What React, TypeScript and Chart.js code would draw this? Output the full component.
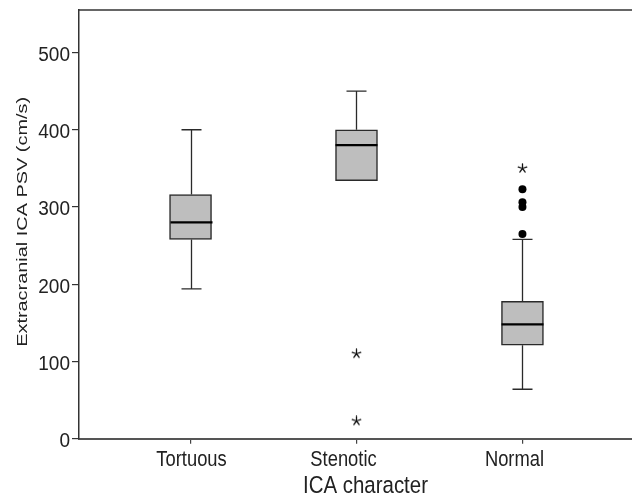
import React, { useEffect, useRef } from "react";
import { Chart, registerables } from "chart.js";

Chart.register(...registerables);

const categories = ["Tortuous", "Stenotic", "Normal"];
const positions = [1, 2, 3];
const whiskerLow = [194, 334, 64];
const q1 = [258, 334, 121];
const median = [280, 380, 148];
const q3 = [316, 400, 178];
const whiskerHigh = [400, 450, 258];
const outlierCat = [3, 3, 3, 3];
const outlierVals = [265, 300, 306, 323];
const extremeCat = [2, 2, 3];
const extremeVals = [110, 23, 350];
const yTicks = [0, 100, 200, 300, 400, 500];

const yTitle = "Extracranial ICA PSV (cm/s)";
const xTitle = "ICA character";

const FONT = '"Liberation Sans", Arial, Helvetica, sans-serif';
const TEXT = "#222";

function drawText(ctx: CanvasRenderingContext2D, text: string, x: number, y: number, size: number, sx: number, align: CanvasTextAlign) {
  ctx.save();
  ctx.translate(x, y);
  ctx.scale(sx, 1);
  ctx.font = `${size}px ${FONT}`;
  ctx.textAlign = align;
  ctx.textBaseline = "alphabetic";
  ctx.fillStyle = TEXT;
  ctx.fillText(text, 0, 0);
  ctx.restore();
}

function makeAsterisk(): HTMLCanvasElement {
  const c = document.createElement("canvas");
  c.width = 11;
  c.height = 11;
  const g = c.getContext("2d")!;
  g.strokeStyle = "#111";
  g.lineWidth = 1.3;
  g.lineCap = "round";
  const cx = 5.5, cy = 5.5, r = 4.5;
  g.beginPath();
  for (let k = 0; k < 5; k++) {
    const a = -Math.PI / 2 + (k * 2 * Math.PI) / 5;
    g.moveTo(cx, cy);
    g.lineTo(cx + r * Math.cos(a), cy + r * Math.sin(a));
  }
  g.stroke();
  return c;
}

const boxExtras = {
  id: "boxExtras",
  afterDatasetsDraw(chart: any) {
    const { ctx, scales } = chart;
    const x = scales.x;
    const y = scales.y;
    ctx.save();
    positions.forEach((p, i) => {
      const px = Math.round(x.getPixelForValue(p)) + 0.5;
      const capHalf = 10;
      ctx.strokeStyle = "#2a2a2a";
      ctx.lineWidth = 1.3;
      if (whiskerHigh[i] > q3[i]) {
        const yq = y.getPixelForValue(q3[i]);
        const yw = y.getPixelForValue(whiskerHigh[i]);
        ctx.beginPath();
        ctx.moveTo(px, yq);
        ctx.lineTo(px, yw);
        ctx.moveTo(px - capHalf, yw);
        ctx.lineTo(px + capHalf, yw);
        ctx.stroke();
      }
      if (whiskerLow[i] < q1[i]) {
        const yq = y.getPixelForValue(q1[i]);
        const yw = y.getPixelForValue(whiskerLow[i]);
        ctx.beginPath();
        ctx.moveTo(px, yq);
        ctx.lineTo(px, yw);
        ctx.moveTo(px - capHalf, yw);
        ctx.lineTo(px + capHalf, yw);
        ctx.stroke();
      }
      const ym = y.getPixelForValue(median[i]);
      ctx.strokeStyle = "#000";
      ctx.lineWidth = 2.2;
      ctx.beginPath();
      ctx.moveTo(px - 21, ym);
      ctx.lineTo(px + 21, ym);
      ctx.stroke();
    });
    ctx.restore();
  },
  afterDraw(chart: any) {
    const { ctx, chartArea, scales } = chart;
    const x = scales.x;
    const y = scales.y;
    ctx.save();
    ctx.strokeStyle = "#333";
    ctx.lineWidth = 1.5;
    ctx.beginPath();
    ctx.moveTo(chartArea.left, chartArea.top);
    ctx.lineTo(chartArea.right, chartArea.top);
    ctx.stroke();
    ctx.restore();

    yTicks.forEach((v) => {
      drawText(ctx, String(v), 70, y.getPixelForValue(v) + 8.5, 20, 0.95, "right");
    });
    const labelShift = [1, -13, -8];
    categories.forEach((c, i) => {
      drawText(ctx, c, x.getPixelForValue(positions[i]) + labelShift[i], 466, 22.5, 0.815, "center");
    });
    drawText(ctx, xTitle, x.getPixelForValue(2) + 9, 493, 23.7, 0.863, "center");
    ctx.save();
    ctx.font = `15.5px ${FONT}`;
    const w = ctx.measureText(yTitle).width;
    ctx.translate(27, (chartArea.top + chartArea.bottom) / 2 - 2.5);
    ctx.rotate(-Math.PI / 2);
    ctx.scale(250 / w, 1);
    ctx.textAlign = "center";
    ctx.textBaseline = "alphabetic";
    ctx.fillStyle = TEXT;
    ctx.fillText(yTitle, 0, 0);
    ctx.restore();
  },
};

export default function App() {
  const ref = useRef<HTMLCanvasElement | null>(null);
  useEffect(() => {
    document.body.style.margin = "0";
    const canvas = ref.current;
    if (!canvas) return;
    const asterisk = makeAsterisk();
    const chart = new Chart(canvas, {
      type: "bar",
      data: {
        datasets: [
          {
            type: "bar",
            data: positions.map((p, i) => ({ x: p, y: [q1[i], q3[i]] })) as any,
            backgroundColor: "#bebebe",
            borderColor: "#2a2a2a",
            borderWidth: 1.5,
            borderSkipped: false,
            barThickness: 42,
            grouped: false,
          } as any,
          {
            type: "scatter",
            data: outlierVals.map((v, i) => ({ x: outlierCat[i], y: v })),
            pointStyle: "circle",
            pointRadius: 4,
            backgroundColor: "#000",
            borderColor: "#000",
            borderWidth: 0,
          } as any,
          {
            type: "scatter",
            data: extremeVals.map((v, i) => ({ x: extremeCat[i], y: v })),
            pointStyle: asterisk,
            pointRadius: 5,
            backgroundColor: "#000",
            borderColor: "#111",
          } as any,
        ],
      },
      options: {
        animation: false,
        responsive: false,
        devicePixelRatio: 1,
        layout: { autoPadding: false, padding: { top: 10, right: 0, left: 0, bottom: 0 } },
        plugins: { legend: { display: false }, tooltip: { enabled: false }, title: { display: false } },
        scales: {
          x: {
            type: "linear",
            offset: false,
            min: 0.328,
            max: 3.66,
            afterBuildTicks: (s: any) => {
              s.ticks = positions.map((v) => ({ value: v }));
            },
            afterFit: (s: any) => {
              s.height = 57.3;
            },
            grid: { display: true, offset: false, drawOnChartArea: false, drawTicks: true, tickLength: 5, color: "#444", lineWidth: 1.2 },
            border: { display: true, color: "#555", width: 2 },
            ticks: { display: false },
          },
          y: {
            type: "linear",
            min: 0,
            max: 555,
            afterBuildTicks: (s: any) => {
              s.ticks = yTicks.map((v) => ({ value: v }));
            },
            afterFit: (s: any) => {
              s.width = 79;
            },
            grid: { display: true, drawOnChartArea: false, drawTicks: true, tickLength: 7, color: "#333", lineWidth: 1.2 },
            border: { display: true, color: "#333", width: 1.5 },
            ticks: { display: false },
          },
        },
      },
      plugins: [boxExtras],
    } as any);
    return () => chart.destroy();
  }, []);
  return (
    <div style={{ width: 632, height: 496 }}>
      <canvas ref={ref} width={632} height={496} style={{ display: "block" }} />
    </div>
  );
}
